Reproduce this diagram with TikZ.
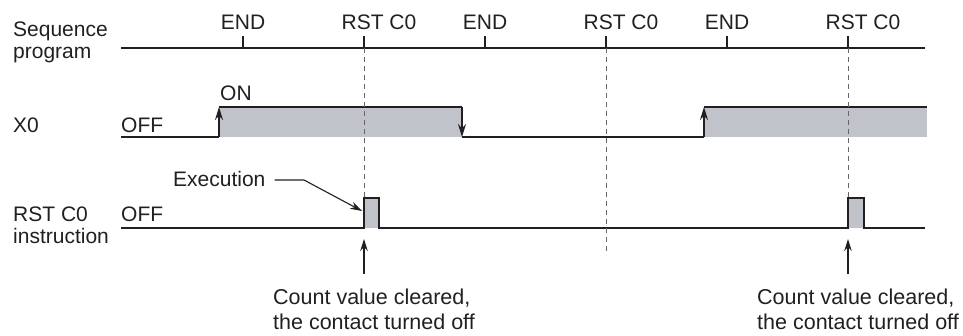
\documentclass[tikz,border=0pt]{standalone}
\usepackage{fontspec}
\setmainfont{Liberation Sans}
\usepackage{xcolor}
\usetikzlibrary{arrows.meta}

\definecolor{ink}{RGB}{35,31,32}
\definecolor{sigfill}{RGB}{192,196,202}

\begin{document}
\begin{tikzpicture}[
    x=1pt, y=-1pt,
    lbl/.style={
        inner sep=0pt,
        text=ink,
        align=left,
        font=\fontsize{21}{21.5}\selectfont
    },
    note/.style={
        inner sep=0pt,
        text=ink,
        align=left,
        font=\fontsize{21.5}{25}\selectfont
    },
    axis/.style={ink, line width=2pt},
    signal/.style={ink, line width=1.6pt},
    edge/.style={-{Stealth[length=13pt,width=8pt]}, ink, line width=1.6pt},
    guide/.style={black!60, line width=1pt, dash pattern=on 5pt off 4pt},
    pointer/.style={-{Stealth[length=12pt,width=7.5pt]}, ink, line width=1.1pt}
]
\useasboundingbox (0,0) rectangle (963,336);

% Row labels
\node[lbl, anchor=north west] (seq) at (13,22) {Sequence\\program};
\node[lbl, anchor=base west] (x0) at (13,133) {X0};
\node[lbl, anchor=north west] (rst) at (13,207) {RST C0\\instruction};

% Sequence program axis
\coordinate (axisL) at (121,48);
\coordinate (axisR) at (925,48);
\draw[axis] (axisL) -- (axisR);

\coordinate (t1) at (243,48);
\coordinate (t2) at (364,48);
\coordinate (t3) at (485,48);
\coordinate (t4) at (606,48);
\coordinate (t5) at (727,48);
\coordinate (t6) at (848,48);
\draw[axis] (t1) -- ++(0,-12);
\draw[axis] (t2) -- ++(0,-12);
\draw[axis] (t3) -- ++(0,-12);
\draw[axis] (t4) -- ++(0,-12);
\draw[axis] (t5) -- ++(0,-12);
\draw[axis] (t6) -- ++(0,-12);

\node[lbl, anchor=base] (end1) at (243,30) {END};
\node[lbl, anchor=base] (rst1) at (379,30) {RST C0};
\node[lbl, anchor=base] (end2) at (485,30) {END};
\node[lbl, anchor=base] (rst2) at (621,30) {RST C0};
\node[lbl, anchor=base] (end3) at (727,30) {END};
\node[lbl, anchor=base] (rst3) at (863,30) {RST C0};

% X0 signal
\coordinate (x0a) at (121,137);
\coordinate (x0b) at (219,137);
\coordinate (x0c) at (219,107);
\coordinate (x0d) at (462,107);
\coordinate (x0e) at (462,137);
\coordinate (x0f) at (704,137);
\coordinate (x0g) at (704,107);
\coordinate (x0h) at (927,107);

\fill[sigfill] (x0b) rectangle (x0d);
\fill[sigfill] (x0f) rectangle (x0h);
\draw[signal] (x0a) -- (x0b);
\draw[edge] (x0b) -- (x0c);
\draw[signal] (x0c) -- (x0d);
\draw[edge] (x0d) -- (x0e);
\draw[signal] (x0e) -- (x0f);
\draw[edge] (x0f) -- (x0g);
\draw[signal] (x0g) -- (x0h);

\node[lbl, anchor=base west] (off1) at (121,133) {OFF};
\node[lbl, anchor=base west] (on1) at (220,101) {ON};

% RST C0 instruction signal
\coordinate (r0) at (121,228);
\coordinate (r1) at (364,228);
\coordinate (r2) at (364,198);
\coordinate (r3) at (379,198);
\coordinate (r4) at (379,228);
\coordinate (r5) at (848,228);
\coordinate (r6) at (848,198);
\coordinate (r7) at (864,198);
\coordinate (r8) at (864,228);
\coordinate (r9) at (925,228);

\fill[sigfill] (r1) rectangle (r3);
\fill[sigfill] (r5) rectangle (r7);
\draw[signal] (r0) -- (r1) -- (r2) -- (r3) -- (r4) -- (r5) -- (r6) -- (r7) -- (r8) -- (r9);

\node[lbl, anchor=base west] (off2) at (121,222) {OFF};

% Dashed guides
\coordinate (g4) at (606,255);
\draw[guide] (t2) -- (r2);
\draw[guide] (t4) -- (g4);
\draw[guide] (t6) -- (r6);

% Execution pointer
\node[lbl, anchor=base west] (exec) at (173,187) {Execution};
\coordinate (bend) at (304,180);
\coordinate (hit) at (362,211);
\draw[pointer] (exec.east |- bend) ++(9,0) -- (bend) -- (hit);

% Count cleared notes
\coordinate (c1a) at (364,274);
\coordinate (c1b) at (364,239);
\coordinate (c2a) at (848,274);
\coordinate (c2b) at (848,239);
\draw[pointer] (c1a) -- (c1b);
\draw[pointer] (c2a) -- (c2b);

\node[note, anchor=north west] (clr1) at (273,289) {Count value cleared,\\the contact turned off};
\node[note, anchor=north west] (clr2) at (757,289) {Count value cleared,\\the contact turned off};

\end{tikzpicture}
\end{document}
